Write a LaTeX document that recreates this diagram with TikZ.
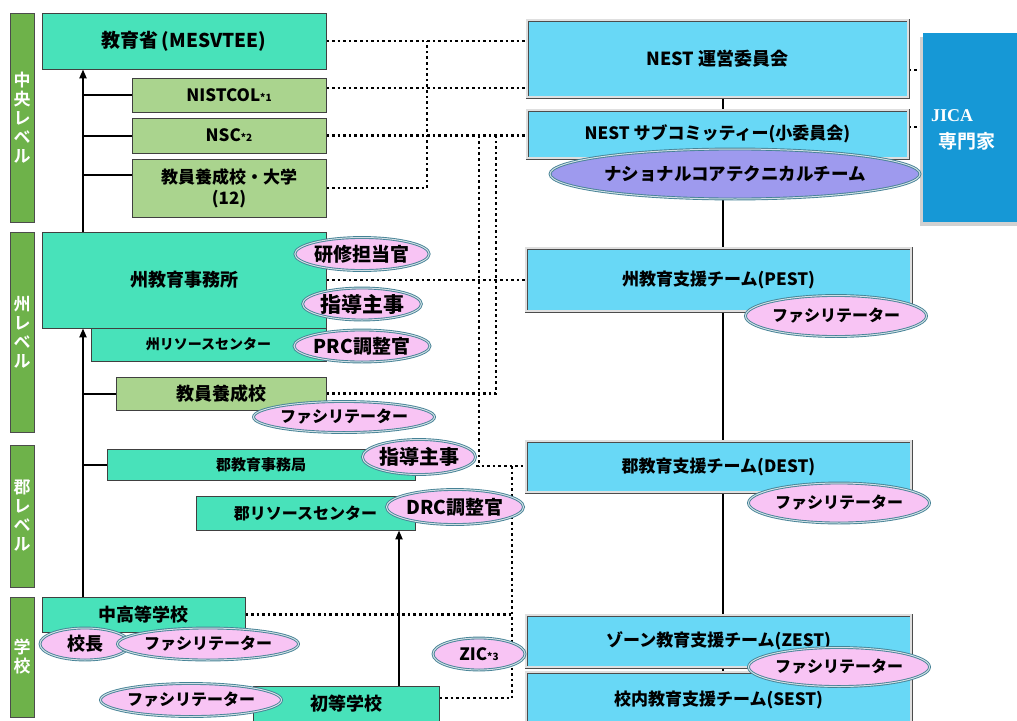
\documentclass[tikz,border=0pt]{standalone}
\usepackage{fontspec}
\IfFontExistsTF{Noto Sans CJK JP Bold}
  {\newfontfamily\jpb{Noto Sans CJK JP Bold}}
  {\newfontfamily\jpb[FakeBold=3]{Noto Sans CJK JP}}
\IfFontExistsTF{Noto Sans CJK JP Black}
  {\newfontfamily\jp{Noto Sans CJK JP Black}}
  {\let\jp\jpb}
\newfontfamily\serifjica{Liberation Serif}
\usetikzlibrary{shapes.geometric,arrows.meta,calc}
\pgfdeclarelayer{bg}\pgfsetlayers{bg,main}
\newcommand\fsz[1]{\fontsize{#1}{#1}\selectfont}
\definecolor{mint}{RGB}{72,226,186}
\definecolor{lgreen}{RGB}{170,212,142}
\definecolor{barg}{RGB}{110,178,74}
\definecolor{sky}{RGB}{104,216,246}
\definecolor{jicab}{RGB}{22,152,214}
\definecolor{pinkf}{RGB}{248,196,244}
\definecolor{lav}{RGB}{158,154,238}
\definecolor{ering}{RGB}{70,130,150}
\tikzset{
  box/.style={draw=black!75, line width=0.8pt, inner sep=0pt, text=black, font=\jp\fsz{18}},
  mintbox/.style={box, fill=mint},
  greenbox/.style={box, fill=lgreen},
  bluebox/.style={draw=black!70, double=gray!25, double distance=1.2pt, line width=0.9pt, fill=sky, inner sep=0pt, font=\jp\fsz{17}},
  oval/.style={ellipse, fill=pinkf, draw=ering, double=white!75!ering, double distance=1pt, line width=0.9pt, inner sep=0pt, font=\jp\fsz{16}},
  lvbar/.style={draw=black!70, line width=0.6pt, fill=barg, text=white, inner sep=0pt, align=center, font=\jpb\fontsize{17}{19}\selectfont},
  dots/.style={line width=2.6pt, dash pattern=on 2.6pt off 3pt},
  conn/.style={line width=2pt, draw=black},
  arr/.style={conn, -{Triangle[length=9pt,width=7pt]}},
}
\begin{document}
\begin{tikzpicture}[x=1pt,y=-1pt]
\useasboundingbox (0,0) rectangle (1017,720);
\clip (0,0) rectangle (1017,720);
% helper coordinates
\coordinate (lx) at (83,0);
\coordinate (rx) at (723,0);
\coordinate (ax) at (399,0);
\coordinate (v1) at (427,0);
\coordinate (v2) at (479,0);
\coordinate (v3) at (496,0);
\coordinate (v4) at (512,0);
\coordinate (y70) at (0,70);
\coordinate (y88) at (0,88);
\coordinate (y127) at (0,127);
\coordinate (y175) at (0,175);
\coordinate (y466) at (0,466);
\coordinate (y698) at (0,698);

% level bars
\node[lvbar, minimum width=24pt, minimum height=209pt] (b1) at (22,117.5) {中\\央\\レ\\ベ\\ル};
\node[lvbar, minimum width=24pt, minimum height=200pt] (b2) at (22,332) {州\\レ\\ベ\\ル};
\node[lvbar, minimum width=24pt, minimum height=142pt] (b3) at (22,516) {郡\\レ\\ベ\\ル};
\node[lvbar, minimum width=24pt, minimum height=120pt] (b4) at (22,657) {学\\校};

% left boxes
\node[mintbox, minimum width=284pt, minimum height=56pt, font=\jp\fsz{19}] (mes) at (184,41) {教育省\,(MESVTEE)};
\node[greenbox, minimum width=194pt, minimum height=34pt, font=\jp\fsz{17}] (nist) at (229,95) {NISTCOL{\fsz{10}*1}};
\node[greenbox, minimum width=194pt, minimum height=35pt, font=\jp\fsz{17}] (nsc) at (229,135.5) {NSC{\fsz{10}*2}};
\node[greenbox, minimum width=194pt, minimum height=58pt, align=center, font=\jp\fontsize{17}{21}\selectfont] (tcu) at (229,188) {教員養成校・大学\\(12)};
\node[mintbox, minimum width=284pt, minimum height=96pt] (peo) at (184,280) {州教育事務所};
\node[mintbox, minimum width=235pt, minimum height=33pt, font=\jp\fsz{14}] (prc) at (208.5,344.5) {州リソースセンター};
\node[greenbox, minimum width=210pt, minimum height=33pt] (ttc) at (221,393.5) {教員養成校};
\node[mintbox, minimum width=308pt, minimum height=31pt, font=\jp\fsz{15}] (deo) at (261,464.5) {郡教育事務局};
\node[mintbox, minimum width=219pt, minimum height=34pt, font=\jp\fsz{16}] (drc) at (305.5,513) {郡リソースセンター};
\node[mintbox, minimum width=203pt, minimum height=35pt] (sec) at (143.5,614.5) {中高等学校};
\node[mintbox, minimum width=186pt, minimum height=36pt] (pri) at (346,704) {初等学校};

% right boxes
\node[bluebox, minimum width=381pt, minimum height=77pt, font=\jp\fsz{18}] (nest) at (717.5,58.5) {NEST 運営委員会};
\node[bluebox, minimum width=381pt, minimum height=48pt] (sub) at (717.5,134) {NEST サブコミッティー(小委員会)};
\node[bluebox, minimum width=385pt, minimum height=63pt] (pest) at (718.5,279.5) {州教育支援チーム(PEST)};
\node[bluebox, minimum width=385pt, minimum height=51pt] (dest) at (718.5,466.5) {郡教育支援チーム(DEST)};
\node[bluebox, minimum width=385pt, minimum height=52pt] (zest) at (718.5,641) {ゾーン教育支援チーム(ZEST)};
\node[bluebox, minimum width=385pt, minimum height=56pt] (sest) at (718.5,700) {校内教育支援チーム(SEST)};

% JICA
\node[fill=black!18, minimum width=110pt, minimum height=189pt, anchor=north west, inner sep=0pt] (jsh) at (920,37) {};
\node[fill=jicab, minimum width=110pt, minimum height=189pt, anchor=north west, inner sep=0pt] (jica) at (923,33) {};
\node[text=white, font=\serifjica\bfseries\fsz{18}, inner sep=0pt, anchor=west] (jt1) at (931,116) {JICA};
\node[text=white, font=\jpb\fsz{19}, inner sep=0pt] (jt2) at (967,141) {専門家};

% ellipses
\node[oval, fill=lav, minimum width=369pt, minimum height=50pt, font=\jp\fsz{17.5}] (nct) at (735,174) {ナショナルコアテクニカルチーム};
\node[oval, minimum width=109pt, minimum height=33pt, font=\jp\fsz{19}] (o1) at (362,254) {研修担当官};
\node[oval, minimum width=109pt, minimum height=32pt, font=\jp\fsz{21}] (o2) at (362,304) {指導主事};
\node[oval, minimum width=109pt, minimum height=32pt, font=\jp\fsz{19}] (o3) at (362,346) {PRC調整官};
\node[oval, minimum width=168pt, minimum height=31pt] (o4) at (344,417) {ファシリテーター};
\node[oval, minimum width=92pt, minimum height=35pt, font=\jp\fsz{20}] (o5) at (419,457) {指導主事};
\node[oval, minimum width=105pt, minimum height=35pt, font=\jp\fsz{19}] (o6) at (455,507) {DRC調整官};
\node[oval, minimum width=90pt, minimum height=32pt, font=\jp\fsz{18}] (o7) at (85,644) {校長};
\node[oval, minimum width=173pt, minimum height=32pt] (o8) at (208,644) {ファシリテーター};
\node[oval, minimum width=172pt, minimum height=33pt] (o9) at (191,700) {ファシリテーター};
\node[oval, minimum width=92pt, minimum height=32pt, font=\jp\fsz{17}] (o10) at (479,654) {ZIC{\fsz{10}*3}};
\node[oval, minimum width=165pt, minimum height=41pt] (o11) at (836,316) {ファシリテーター};
\node[oval, minimum width=161pt, minimum height=40pt] (o12) at (839,503) {ファシリテーター};
\node[oval, minimum width=159pt, minimum height=39pt] (o13) at (839,667) {ファシリテーター};

\begin{pgfonlayer}{bg}
% left spine
\draw[arr] (peo.north -| lx) -- (mes.south -| lx);
\draw[arr] (sec.north -| lx) -- (peo.south -| lx);
\draw[conn] (nist.west -| lx) -- (nist.west);
\draw[conn] (nsc.west -| lx) -- (nsc.west);
\draw[conn] (lx |- y175) -- (tcu.west |- y175);
\draw[conn] (ttc.west -| lx) -- (ttc.west);
\draw[conn] (deo.west -| lx) -- (deo.west);
\draw[arr] (pri.north -| ax) -- (drc.south -| ax);
% right spine
\draw[conn] (nest.south -| rx) -- (sub.north -| rx);
\draw[conn] (nct.south -| rx) -- (pest.north -| rx);
\draw[conn] (pest.south -| rx) -- (dest.north -| rx);
\draw[conn] (dest.south -| rx) -- (zest.north -| rx);
\draw[conn] (zest.south -| rx) -- (sest.north -| rx);
% dotted links
\draw[dots] (mes.east) -- (mes.east -| nest.west);
\draw[dots] (nist.east |- y88) -- (nest.west |- y88);
\draw[dots] (nsc.east) -- (nsc.east -| sub.west);
\draw[dots] (tcu.east) -- (tcu.east -| v1) -- (v1 |- mes.east);
\draw[dots] (peo.east) -- (peo.east -| pest.west);
\draw[dots] (ttc.east) -- (ttc.east -| v3) -- (v3 |- nsc.east);
\draw[dots] (v2 |- nsc.east) -- (v2 |- y466);
\draw[dots] (o5.east |- y466) -- (dest.west |- y466);
\draw[dots] (v4 |- y466) -- (v4 |- y698);
\draw[dots] (sec.east) -- (sec.east -| v4);
\draw[dots] (pri.east |- y698) -- (v4 |- y698);
\draw[dots] (nest.east |- y70) -- (jica.west |- y70);
\draw[dots] (sub.east |- y127) -- (jica.west |- y127);
\end{pgfonlayer}
\end{tikzpicture}
\end{document}
